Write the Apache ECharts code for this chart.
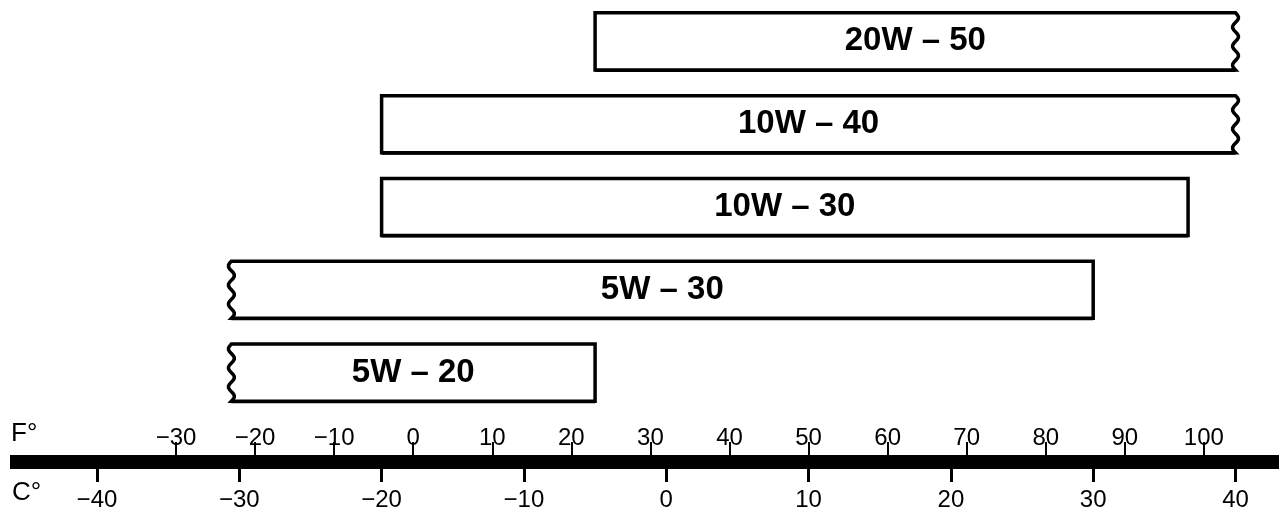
<!DOCTYPE html>
<html>
<head>
<meta charset="utf-8">
<script src="https://cdn.jsdelivr.net/npm/echarts@6/dist/echarts.min.js"></script>
<style>
html, body { margin: 0; padding: 0; background: #fff; }
#chart { width: 1279px; height: 515px; }
</style>
</head>
<body>
<div id="chart"></div>
<script>
// oil grades, top to bottom, with usable range in °F
const grades = ['20W – 50', '10W – 40', '10W – 30', '5W – 30', '5W – 20']
const lowF = [23, -4, -4, -23, -23]
const highF = [104, 104, 98, 86, 23]
// open ends are drawn wavy
const openLow = [false, false, false, true, true]
const openHigh = [true, true, false, false, false]
// tick labels
const fTicks = [-30, -20, -10, 0, 10, 20, 30, 40, 50, 60, 70, 80, 90, 100]
const cTicks = [-40, -30, -20, -10, 0, 10, 20, 30, 40]
const fMin = -51
const fMax = 109.5

const toC = f => (f - 32) / 1.8
const fmt = v => (v < 0 ? '−' + (-v) : String(v))

const chart = echarts.init(document.getElementById('chart'))

function wavy(pts, x, y0, y1) {
  const n = 30
  for (let k = 0; k <= n; k++) {
    const t = k / n
    pts.push([x + 3 * Math.sin(t * Math.PI * 6), y0 + (y1 - y0) * t])
  }
}

function renderBar(params, api) {
  const i = params.dataIndex
  const cat = api.value(2)
  const a = api.coord([api.value(0), cat])
  const b = api.coord([api.value(1), cat])
  const h = api.size([0, 1])[1] * 0.69
  const top = a[1] - h / 2
  const bot = a[1] + h / 2
  const x0 = a[0]
  const x1 = b[0]
  const pts = [[x0, top], [x1, top]]
  if (openHigh[i]) wavy(pts, x1, top, bot)
  else pts.push([x1, bot])
  pts.push([x0, bot])
  if (openLow[i]) wavy(pts, x0, bot, top)
  return {
    type: 'group',
    children: [
      {
        type: 'polygon',
        shape: { points: pts },
        style: { fill: '#fff', stroke: '#000', lineWidth: 3.5 },
      },
      // bottom edge a bit heavier, like the print
      {
        type: 'line',
        shape: { x1: x0, y1: bot + 1, x2: x1, y2: bot + 1 },
        style: { stroke: '#000', lineWidth: 2 },
      },
      {
        type: 'text',
        x: (x0 + x1) / 2,
        y: a[1],
        style: {
          text: grades[i],
          font: 'bold 33px "Liberation Sans", Arial, sans-serif',
          fill: '#000',
          align: 'center',
          verticalAlign: 'middle',
        },
      },
    ],
  }
}

const option = {
  animation: false,
  backgroundColor: '#fff',
  grid: { left: 10, right: 0, top: 0, height: 414, outerBoundsMode: 'none' },
  xAxis: [
    {
      type: 'value',
      min: fMin,
      max: fMax,
      position: 'bottom',
      offset: 48,
      axisLine: { show: true, lineStyle: { color: '#000', width: 14, cap: 'butt' } },
      axisTick: {
        show: true, inside: true, length: 20, customValues: fTicks,
        lineStyle: { color: '#000', width: 2 },
      },
      axisLabel: {
        inside: true, margin: 12, customValues: fTicks, formatter: fmt,
        color: '#000', fontSize: 24, fontFamily: 'Liberation Sans',
      },
      splitLine: { show: false },
    },
    {
      type: 'value',
      min: toC(fMin),
      max: toC(fMax),
      position: 'bottom',
      offset: 48,
      axisLine: { show: false },
      axisTick: {
        show: true, length: 20, customValues: cTicks,
        lineStyle: { color: '#000', width: 3 },
      },
      axisLabel: {
        margin: 26, customValues: cTicks, formatter: fmt,
        color: '#000', fontSize: 24, fontFamily: 'Liberation Sans',
      },
      splitLine: { show: false },
    },
  ],
  yAxis: {
    type: 'category',
    inverse: true,
    data: grades,
    show: false,
  },
  graphic: [
    {
      type: 'text', left: 11, top: 421,
      style: { text: 'F°', font: '26px "Liberation Sans"', fill: '#000' },
    },
    {
      type: 'text', left: 12, top: 480,
      style: { text: 'C°', font: '26px "Liberation Sans"', fill: '#000' },
    },
  ],
  series: [
    {
      type: 'custom',
      renderItem: renderBar,
      xAxisIndex: 0,
      encode: { x: [0, 1], y: 2 },
      data: grades.map((g, i) => [lowF[i], highF[i], i]),
    },
  ],
}

chart.setOption(option)
</script>
</body>
</html>
